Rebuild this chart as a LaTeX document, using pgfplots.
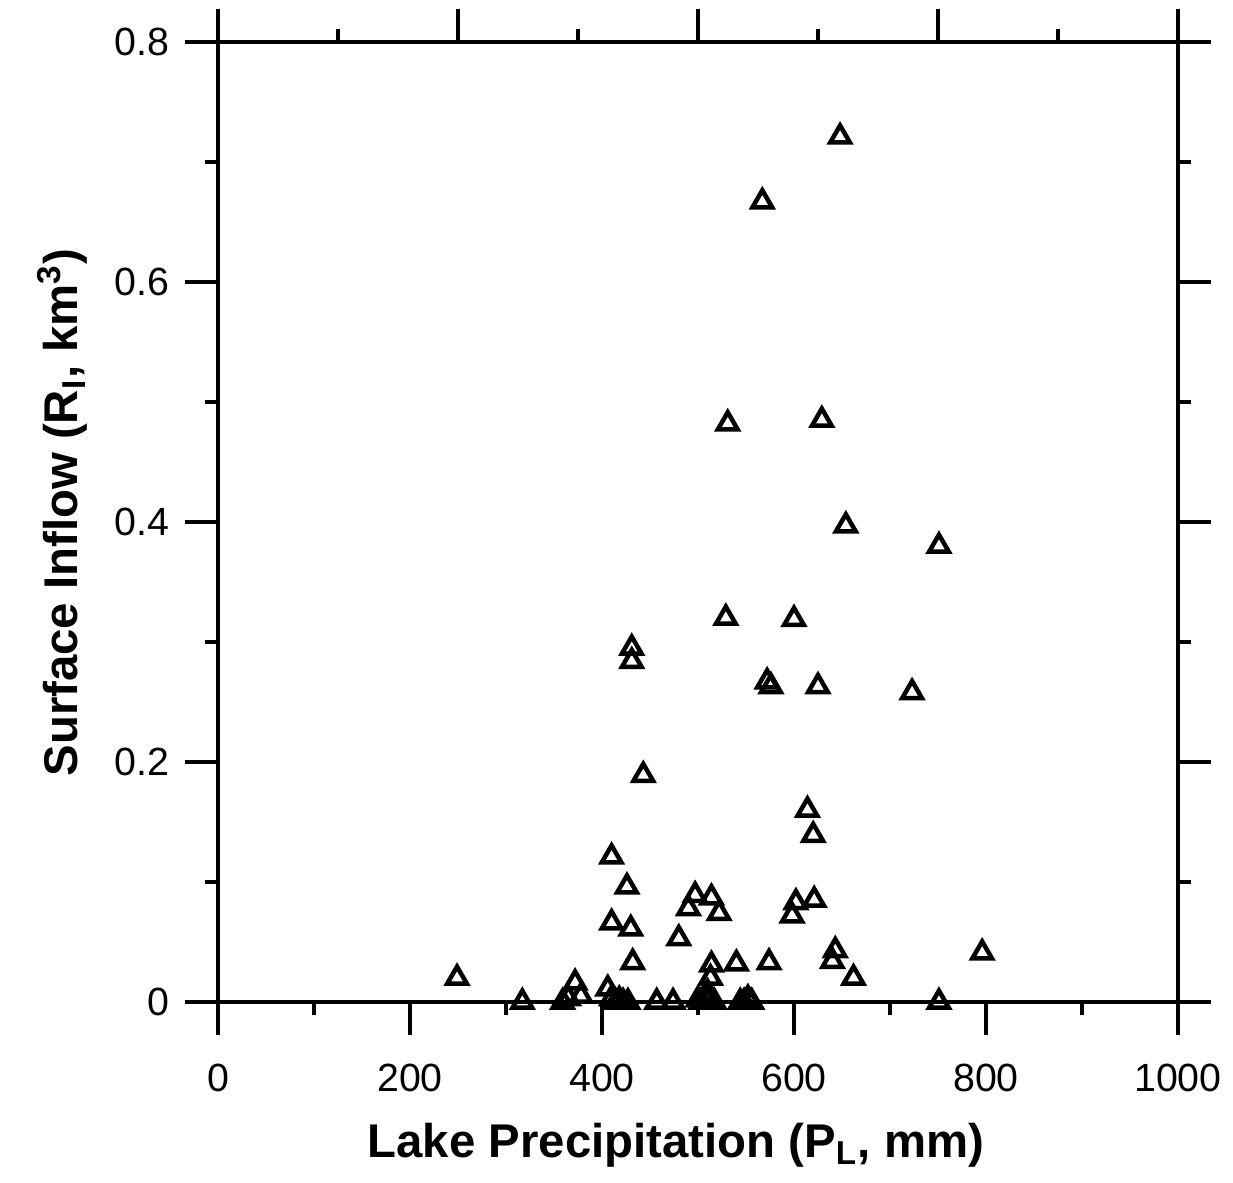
\documentclass[border=0pt]{standalone}
\usepackage{fontspec}
\setmainfont{Liberation Sans}
\usepackage{pgfplots}
\pgfplotsset{compat=1.18}

\pgfplotsset{
  lakebase/.style={
    scale only axis, width=288pt, height=288pt,
    xmin=0, xmax=1000, ymin=0, ymax=0.8,
    clip=false,
    tick align=outside,
    major tick length=10pt, minor tick length=4pt,
    every tick/.style={black, line width=1.2pt},
    axis line style={black, line width=1.2pt},
    /pgf/number format/assume math mode=true,
    /pgf/number format/1000 sep={},
    tick label style={font=\fontsize{11.8}{14}\selectfont},
  }
}

\begin{document}
\begin{tikzpicture}
\begin{axis}[
    lakebase,
    xtick={0,200,...,1000},
    minor x tick num=1,
    ytick={0,0.2,...,0.8},
    minor y tick num=1,
    xtick pos=left,
    ytick pos=both,
    yticklabel pos=left,
    xticklabel shift=5pt,
    yticklabel shift=1pt,
    yticklabels={0,0.2,0.4,0.6,0.8},
    label style={font=\fontsize{14.2}{17}\selectfont\bfseries},
    xlabel={Lake Precipitation (P\textsubscript{L}, mm)},
    xlabel style={at={(axis description cs:0.477,-0.1135)}, anchor=north},
    ylabel={Surface Inflow (R\textsubscript{I}, km\textsuperscript{3})},
    ylabel style={at={(axis description cs:-0.1235,0.51)}, rotate=0, anchor=south},
]
\coordinate (bl) at (rel axis cs:0,0);
\addplot[only marks, mark=triangle, mark size=3.4pt,
         mark options={black, line width=1.35pt}] table {
x y
249 0.020
317 0.000
359 0.000
365 0.003
372 0.016
378 0.005
406 0.011
410 0.003
414 0.000
418 0.002
422 0.000
427 0.000
410 0.121
410 0.066
426 0.096
430 0.061
432 0.033
431 0.295
431 0.284
443 0.189
457 0.000
474 0.000
480 0.053
490 0.078
497 0.089
500 0.002
503 0.000
507 0.004
510 0.008
512 0.003
513 0.020
514 0.031
514 0.087
517 0.000
522 0.074
529 0.320
531 0.482
540 0.032
544 0.000
548 0.000
552 0.003
556 0.000
567 0.667
572 0.267
576 0.263
574 0.033
598 0.072
600 0.319
602 0.083
614 0.160
620 0.139
621 0.085
625 0.263
629 0.485
640 0.034
643 0.043
648 0.721
654 0.397
662 0.020
723 0.258
751 0.380
751 0.000
796 0.041
};
\end{axis}

% top axis carries its own tick spacing
\begin{axis}[
    lakebase,
    axis x line*=top,
    axis y line=none,
    xtick={0,250,...,1000},
    minor xtick={125,375,625,875},
    xticklabels={},
    ytick=\empty,
]
\end{axis}

\pgfresetboundingbox
\path (bl) ++(-65.4pt,-54.3pt) rectangle ++(369.9pt,354.9pt);
\end{tikzpicture}
\end{document}
